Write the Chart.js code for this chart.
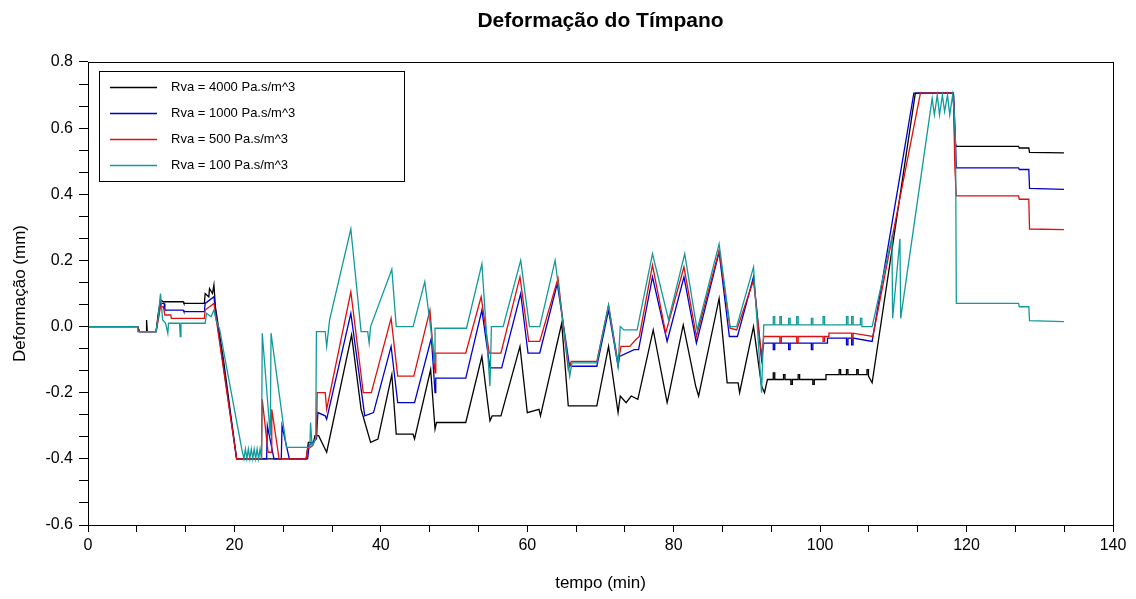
<!DOCTYPE html>
<html lang="pt">
<head>
<meta charset="UTF-8">
<title>Deformação do Tímpano</title>
<script src="https://cdn.jsdelivr.net/npm/chart.js@4.4.0/dist/chart.umd.min.js"></script>
<style>
  body { margin: 0; background: #fff; }
  #chart { display: block; }
</style>
</head>
<body>
<canvas id="chart" width="1136" height="599"></canvas>
<script>
// series labels
const seriesLabels = ['Rva = 4000 Pa.s/m^3', 'Rva = 1000 Pa.s/m^3', 'Rva = 500 Pa.s/m^3', 'Rva = 100 Pa.s/m^3'];
const seriesColors = ['#000000', '#0000cc', '#dd1010', '#129a9a'];

// [tempo (min), deformação (mm)]
const rva4000 = [
  [0,0],[6.8,0],[7.0,-0.015],[8.0,-0.015],[8.0,0.02],[8.1,-0.015],[9.3,-0.015],[9.6,0.04],[9.9,0.08],[10.3,0.075],
  [13.0,0.075],[13.1,0.07],[15.9,0.07],[16.0,0.10],[16.5,0.09],[16.6,0.115],[17.0,0.10],[17.2,0.126],[17.4,0.06],
  [18.5,-0.10],[20.3,-0.40],[29.8,-0.40],[30.1,-0.35],[30.8,-0.35],[31.0,-0.33],[31.5,-0.33],[32.6,-0.38],
  [36.0,-0.025],[37.3,-0.25],[38.6,-0.35],[39.6,-0.34],[41.5,-0.145],[42.1,-0.325],[44.4,-0.325],[44.6,-0.34],
  [46.8,-0.13],[47.4,-0.31],[47.6,-0.29],[51.6,-0.29],[53.8,-0.09],[54.9,-0.285],[55.2,-0.27],[56.4,-0.27],
  [59.0,-0.06],[60.0,-0.26],[61.6,-0.25],[61.8,-0.27],[64.7,0.01],[65.6,-0.24],[69.5,-0.24],[71.1,-0.06],
  [72.4,-0.26],[72.7,-0.21],[73.5,-0.23],[74.2,-0.21],[75.1,-0.22],[77.2,-0.01],[79.1,-0.23],[79.3,-0.21],
  [81.3,0.005],[83.0,-0.18],[83.4,-0.21],[86.2,0.085],[87.3,-0.17],[88.8,-0.17],[89.0,-0.20],[90.9,0.0],
  [92.0,-0.18],[92.4,-0.20],[92.8,-0.16],[93.6,-0.16],[93.6,-0.14],[93.8,-0.14],[93.8,-0.16],[95.0,-0.16],
  [95.0,-0.145],[95.2,-0.145],[95.2,-0.16],[96.0,-0.16],[96.0,-0.175],[96.2,-0.175],[96.2,-0.16],[97.0,-0.16],
  [97.0,-0.145],[97.2,-0.145],[97.2,-0.16],[99.0,-0.16],[99.0,-0.175],[99.2,-0.175],[99.2,-0.16],[100.8,-0.16],
  [100.8,-0.145],[102.6,-0.145],[102.6,-0.13],[102.8,-0.13],[102.8,-0.145],[103.6,-0.145],[103.6,-0.13],
  [103.8,-0.13],[103.8,-0.145],[105.0,-0.145],[105.0,-0.13],[105.2,-0.13],[105.2,-0.145],[106.4,-0.145],
  [106.4,-0.13],[106.6,-0.13],[106.6,-0.15],[107.1,-0.17],[113.0,0.706],[118.2,0.706],[118.4,0.56],
  [118.6,0.545],[127.1,0.545],[127.2,0.54],[128.5,0.54],[128.6,0.527],[133.3,0.525]
];
const rva1000 = [
  [0,0],[6.8,0],[7.0,-0.015],[9.3,-0.015],[9.6,0.03],[9.9,0.07],[10.4,0.07],[10.5,0.05],[13.0,0.05],[13.1,0.045],
  [15.9,0.045],[16.0,0.07],[16.6,0.08],[17.2,0.09],[17.4,0.05],[20.3,-0.40],[24.4,-0.40],[24.5,-0.30],[25.4,-0.40],
  [26.4,-0.40],[26.5,-0.30],[27.5,-0.40],[30.0,-0.40],[30.2,-0.36],[31.2,-0.34],[31.4,-0.26],[32.4,-0.27],
  [32.6,-0.28],[35.9,0.04],[37.8,-0.27],[39.0,-0.26],[41.4,-0.06],[42.3,-0.23],[44.6,-0.23],[46.9,-0.035],
  [47.4,-0.20],[47.5,-0.156],[51.6,-0.156],[53.8,0.05],[54.9,-0.125],[56.5,-0.125],[59.1,0.10],[60.1,-0.08],
  [61.7,-0.08],[64.1,0.13],[65.7,-0.11],[66.0,-0.12],[69.5,-0.12],[71.1,0.05],[72.4,-0.12],[72.6,-0.09],
  [74.6,-0.07],[75.2,-0.07],[77.1,0.15],[79.1,-0.045],[81.4,0.15],[83.1,-0.05],[86.2,0.225],[87.6,-0.03],
  [88.7,-0.03],[90.9,0.15],[92.0,-0.10],[92.3,-0.05],[93.6,-0.05],[93.6,-0.07],[93.8,-0.07],[93.8,-0.05],
  [95.7,-0.05],[95.7,-0.07],[95.9,-0.07],[95.9,-0.05],[98.8,-0.05],[98.8,-0.07],[99.0,-0.07],[99.0,-0.05],
  [101.0,-0.05],[101.0,-0.035],[103.6,-0.035],[103.6,-0.055],[103.8,-0.055],[103.8,-0.035],[104.3,-0.035],
  [104.3,-0.055],[104.5,-0.055],[104.5,-0.035],[107.1,-0.045],[112.8,0.706],[118.2,0.706],[118.4,0.61],
  [118.6,0.48],[127.1,0.48],[127.2,0.475],[128.5,0.475],[128.6,0.418],[133.3,0.415]
];
const rva500 = [
  [0,0],[6.8,0],[7.0,-0.015],[9.3,-0.015],[9.6,0.02],[9.9,0.06],[10.3,0.06],[10.5,0.035],[11.3,0.035],[11.4,0.025],
  [15.9,0.025],[16.0,0.05],[16.6,0.06],[17.2,0.07],[17.4,0.04],[20.3,-0.40],[23.7,-0.40],[23.8,-0.22],[24.6,-0.38],
  [25.0,-0.38],[25.1,-0.25],[26.1,-0.40],[29.8,-0.40],[30.0,-0.37],[30.7,-0.36],[31.2,-0.33],[31.3,-0.20],
  [32.4,-0.20],[32.6,-0.25],[35.9,0.105],[37.6,-0.20],[38.7,-0.20],[41.4,0.025],[42.3,-0.15],[44.5,-0.15],
  [46.7,0.05],[47.4,-0.14],[47.5,-0.08],[51.6,-0.08],[53.7,0.09],[54.8,-0.08],[56.4,-0.08],[59.0,0.15],
  [60.2,-0.045],[61.7,-0.045],[64.2,0.146],[65.6,-0.13],[66.0,-0.105],[69.5,-0.105],[71.1,0.065],[72.4,-0.11],
  [72.8,-0.06],[74.0,-0.06],[74.8,-0.04],[75.3,-0.03],[77.1,0.186],[78.9,-0.02],[81.4,0.18],[83.1,-0.03],
  [86.2,0.23],[87.7,-0.005],[88.6,-0.01],[90.9,0.14],[92.0,-0.09],[92.3,-0.03],[94.5,-0.03],[94.5,-0.05],
  [94.7,-0.05],[94.7,-0.03],[96.8,-0.03],[96.8,-0.05],[97.0,-0.05],[97.0,-0.03],[100.4,-0.03],[100.4,-0.045],
  [100.6,-0.045],[100.6,-0.03],[101.2,-0.03],[101.2,-0.02],[104.3,-0.02],[104.3,-0.035],[104.5,-0.035],
  [104.5,-0.02],[107.2,-0.03],[113.7,0.706],[118.2,0.706],[118.4,0.48],[118.6,0.395],[127.1,0.395],
  [127.2,0.385],[128.5,0.385],[128.6,0.295],[133.3,0.293]
];
const rva100 = [
  [0,0],[6.8,0],[6.8,-0.015],[9.3,-0.015],[9.6,0.03],[9.9,0.10],[10.2,0.02],[10.6,0.01],[10.9,-0.02],[11.0,0.01],
  [12.5,0.01],[12.6,-0.03],[12.7,0.01],[16.0,0.01],[16.2,0.04],[16.8,0.03],[17.2,0.05],[17.5,0.02],[18.0,-0.01],
  [18.4,-0.06],[21.0,-0.37],[21.3,-0.40],[21.5,-0.37],[21.7,-0.40],[21.9,-0.37],[22.1,-0.40],[22.3,-0.37],
  [22.5,-0.40],[22.7,-0.37],[22.9,-0.40],[23.1,-0.37],[23.3,-0.40],[23.5,-0.37],[23.7,-0.40],[23.8,-0.02],
  [24.9,-0.33],[25.0,-0.02],[27.1,-0.365],[30.3,-0.365],[30.4,-0.29],[30.6,-0.36],[31.1,-0.34],[31.2,-0.015],
  [32.4,-0.015],[32.6,-0.06],[33.0,0.02],[35.9,0.295],[37.3,-0.015],[38.2,-0.015],[38.4,-0.05],[38.6,0.0],
  [41.5,0.173],[42.1,0.0],[44.4,0.0],[46.0,0.136],[47.4,-0.11],[47.4,-0.005],[51.7,-0.005],[53.8,0.19],
  [54.9,-0.18],[55.1,0.0],[56.7,0.0],[59.1,0.20],[60.3,0.0],[61.7,0.0],[63.8,0.20],[65.8,-0.15],[66.1,-0.11],
  [69.5,-0.11],[71.1,0.065],[72.4,-0.12],[72.7,0.0],[73.2,-0.01],[75.0,-0.01],[77.1,0.22],[79.3,0.02],
  [81.5,0.22],[83.2,-0.01],[86.2,0.25],[87.7,0.0],[88.6,0.0],[90.9,0.18],[92.0,-0.20],[92.3,0.005],
  [93.6,0.005],[93.6,0.03],[93.8,0.03],[93.8,0.005],[94.5,0.005],[94.5,0.03],[94.7,0.03],[94.7,0.005],
  [95.7,0.005],[95.7,0.025],[95.9,0.025],[95.9,0.005],[96.8,0.005],[96.8,0.03],[97.0,0.03],[97.0,0.005],
  [98.8,0.005],[98.8,0.025],[99.0,0.025],[99.0,0.005],[100.4,0.005],[100.4,0.03],[100.6,0.03],[100.6,0.005],
  [103.6,0.005],[103.6,0.03],[103.8,0.03],[103.8,0.005],[104.3,0.005],[104.3,0.03],[104.5,0.03],[104.5,0.005],
  [105.5,0.005],[105.5,0.025],[105.7,0.025],[105.7,0.0],[107.1,0.0],[109.8,0.27],[109.9,0.025],[110.9,0.265],
  [111.0,0.025],[115.3,0.69],[115.6,0.64],[116.0,0.70],[116.3,0.64],[116.7,0.70],[117.0,0.65],[117.4,0.70],
  [117.7,0.64],[118.1,0.70],[118.3,0.65],[118.5,0.55],[118.6,0.07],[127.1,0.07],[127.2,0.06],[128.5,0.06],
  [128.6,0.018],[133.3,0.015]
];
const seriesData = [rva4000, rva1000, rva500, rva100];

// axis ranges (majors labelled, two minor ticks between)
const xMin = 0, xMax = 140, xMajor = 20;
const yMin = -0.6, yMax = 0.8, yMajor = 0.2;

function withMinors(min, major, count) {
  const out = [];
  for (let i = 0; i <= count; i++) out.push({ value: min + i * major / 3 });
  return out;
}

// Scilab-like box around the axes plus the plot title
const frame = {
  id: 'frame',
  afterDraw(chart) {
    const { ctx, chartArea: a } = chart;
    ctx.save();
    ctx.strokeStyle = '#000';
    ctx.lineWidth = 1;
    ctx.strokeRect(Math.round(a.left) + 0.5, Math.round(a.top) + 0.5,
                   Math.round(a.right - a.left), Math.round(a.bottom - a.top));
    ctx.fillStyle = '#000';
    ctx.font = 'bold 21px "Liberation Sans", Arial, sans-serif';
    ctx.textAlign = 'center';
    ctx.textBaseline = 'middle';
    ctx.fillText('Deformação do Tímpano', (a.left + a.right) / 2, 21);
    ctx.restore();
  }
};

// legend drawn inside the axes, top left
const boxLegend = {
  id: 'boxLegend',
  afterDraw(chart) {
    const { ctx, chartArea: a } = chart;
    const x0 = Math.round(a.left) + 11, y0 = Math.round(a.top) + 9;
    ctx.save();
    ctx.fillStyle = '#fff';
    ctx.fillRect(x0, y0, 305, 110);
    ctx.strokeStyle = '#000';
    ctx.lineWidth = 1;
    ctx.strokeRect(x0 + 0.5, y0 + 0.5, 305, 110);
    ctx.font = '13px "Liberation Sans", Arial, sans-serif';
    ctx.textBaseline = 'middle';
    chart.data.datasets.forEach((ds, i) => {
      const y = y0 + 16 + i * 26;
      ctx.strokeStyle = seriesColors[i];
      ctx.lineWidth = 1.3;
      ctx.beginPath();
      ctx.moveTo(x0 + 11, y + 0.5);
      ctx.lineTo(x0 + 58, y + 0.5);
      ctx.stroke();
      ctx.fillStyle = '#000';
      ctx.fillText(ds.label, x0 + 72, y);
    });
    ctx.restore();
  }
};

const datasets = seriesData.map((d, i) => ({
  label: seriesLabels[i],
  data: d.map(p => ({ x: p[0], y: p[1] })),
  borderColor: seriesColors[i],
  backgroundColor: seriesColors[i],
  borderWidth: 1.3,
  pointRadius: 0,
  tension: 0,
  order: 4 - i
}));

const tickFont = { family: '"Liberation Sans", Arial, sans-serif', size: 16 };
const titleFont = { family: '"Liberation Sans", Arial, sans-serif', size: 17 };

new Chart(document.getElementById('chart'), {
  type: 'line',
  data: { datasets: datasets },
  options: {
    responsive: false,
    animation: false,
    devicePixelRatio: 1,
    layout: { padding: { top: 62, right: 23, left: 0, bottom: 0 } },
    plugins: { legend: { display: false }, tooltip: { enabled: false }, title: { display: false } },
    scales: {
      x: {
        type: 'linear', min: xMin, max: xMax,
        afterBuildTicks: s => { s.ticks = withMinors(xMin, xMajor, 21); },
        afterFit: s => { s.height = 74; },
        ticks: {
          autoSkip: false, maxRotation: 0, color: '#000', font: tickFont, padding: 4,
          callback: (v, i) => (i % 3 === 0 ? String(Math.round(v)) : '')
        },
        grid: { drawOnChartArea: false, drawTicks: true, tickLength: 7, tickColor: '#000' },
        border: { display: true, color: '#000' },
        title: { display: true, text: 'tempo (min)', color: '#000', font: titleFont, padding: { top: 0, bottom: 5 } }
      },
      y: {
        type: 'linear', min: yMin, max: yMax,
        afterBuildTicks: s => { s.ticks = withMinors(yMin, yMajor, 21); },
        afterFit: s => { s.width = 88; },
        ticks: {
          autoSkip: false, color: '#000', font: tickFont, padding: 6,
          callback: (v, i) => (i % 3 === 0 ? (Math.round(v * 10) / 10).toFixed(1) : '')
        },
        grid: { drawOnChartArea: false, drawTicks: true, tickLength: 9, tickColor: '#000' },
        border: { display: true, color: '#000' },
        title: { display: true, text: 'Deformação (mm)', color: '#000', font: titleFont, padding: { top: 10, bottom: 0 } }
      }
    }
  },
  plugins: [frame, boxLegend]
});
</script>
</body>
</html>
